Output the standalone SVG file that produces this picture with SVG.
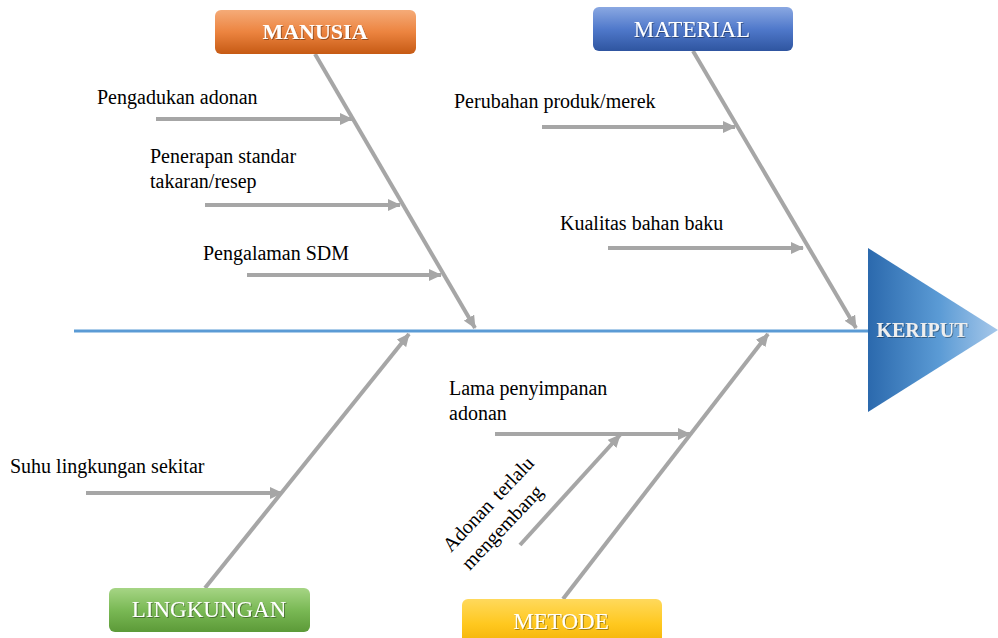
<svg xmlns="http://www.w3.org/2000/svg" width="998" height="638" viewBox="0 0 998 638">
  <style>
    text { font-family: 'Liberation Serif', serif; }
    .lbl { font-size: 20px; fill: #000; }
    .hdr { font-size: 23px; fill: #ffffff; text-anchor: middle; }
    .bold { font-weight: bold; }
    .bone { stroke: #a6a6a6; stroke-width: 4; fill: none; marker-end: url(#arr); }
    .spine { stroke: #5b9bd5; stroke-width: 3; }
  </style>
  <defs>
    <marker id="arr" markerUnits="userSpaceOnUse" markerWidth="14" markerHeight="12" refX="12" refY="6" orient="auto">
      <path d="M0,0 L13,6 L0,12 z" fill="#a6a6a6"/>
    </marker>
    <filter id="tsh" x="-10%" y="-30%" width="120%" height="160%">
      <feDropShadow dx="1" dy="1" stdDeviation="0.6" flood-color="#000" flood-opacity="0.35"/>
    </filter>
    <linearGradient id="gOrange" x1="0" y1="0" x2="0" y2="1">
      <stop offset="0" stop-color="#f5ab78"/>
      <stop offset="0.5" stop-color="#ec8440"/>
      <stop offset="1" stop-color="#c65a14"/>
    </linearGradient>
    <linearGradient id="gBlue" x1="0" y1="0" x2="0" y2="1">
      <stop offset="0" stop-color="#8aa8e2"/>
      <stop offset="0.5" stop-color="#5079cb"/>
      <stop offset="1" stop-color="#2f55a0"/>
    </linearGradient>
    <linearGradient id="gGreen" x1="0" y1="0" x2="0" y2="1">
      <stop offset="0" stop-color="#a6d585"/>
      <stop offset="0.5" stop-color="#7ab955"/>
      <stop offset="1" stop-color="#5c9a38"/>
    </linearGradient>
    <linearGradient id="gYellow" x1="0" y1="0" x2="0" y2="1">
      <stop offset="0" stop-color="#ffd95c"/>
      <stop offset="0.5" stop-color="#ffc81f"/>
      <stop offset="1" stop-color="#f0ad00"/>
    </linearGradient>
    <linearGradient id="gHead" x1="0" y1="0" x2="1" y2="0">
      <stop offset="0" stop-color="#2b69ad"/>
      <stop offset="0.55" stop-color="#5b9bd5"/>
      <stop offset="1" stop-color="#a7c8ea"/>
    </linearGradient>
  </defs>

  <g id="connectors">
    <line class="spine" x1="74" y1="331" x2="868" y2="331"/>
    <line class="bone" x1="315" y1="54" x2="475" y2="328"/>
    <line class="bone" x1="693" y1="51" x2="856" y2="328"/>
    <line class="bone" x1="205" y1="588" x2="409" y2="334"/>
    <line class="bone" x1="563" y1="599" x2="768" y2="334"/>
    <line class="bone" x1="156" y1="119" x2="352" y2="119"/>
    <line class="bone" x1="205" y1="205" x2="400" y2="205"/>
    <line class="bone" x1="247" y1="275" x2="441" y2="275"/>
    <line class="bone" x1="542" y1="127" x2="735" y2="127"/>
    <line class="bone" x1="608" y1="248" x2="803" y2="248"/>
    <line class="bone" x1="86" y1="493" x2="282" y2="493"/>
    <line class="bone" x1="495" y1="434" x2="690" y2="434"/>
    <line class="bone" x1="520" y1="545" x2="620" y2="435"/>
  </g>

  <g id="keriput">
    <polygon points="868,248 998,330 868,412" fill="url(#gHead)"/>
    <text class="hdr bold" x="922" y="337" style="font-size:20px; fill:#eeeeee" filter="url(#tsh)">KERIPUT</text>
  </g>

  <g id="manusia">
    <rect x="215" y="10" width="201" height="44" rx="6" fill="url(#gOrange)"/>
    <text class="hdr bold" x="315" y="39" style="font-size:22px" filter="url(#tsh)">MANUSIA</text>
  </g>
  <g id="material">
    <rect x="593" y="7" width="200" height="44" rx="6" fill="url(#gBlue)"/>
    <text class="hdr" x="692" y="37" filter="url(#tsh)">MATERIAL</text>
  </g>
  <g id="lingkungan">
    <rect x="109" y="588" width="201" height="44" rx="6" fill="url(#gGreen)"/>
    <text class="hdr" x="209" y="617" filter="url(#tsh)">LINGKUNGAN</text>
  </g>
  <g id="metode">
    <rect x="462" y="599" width="200" height="50" rx="6" fill="url(#gYellow)"/>
    <text class="hdr" x="561" y="629" filter="url(#tsh)">METODE</text>
  </g>

  <g id="pengadukan"><text class="lbl" x="97" y="104">Pengadukan adonan</text></g>
  <g id="penerapan">
    <text class="lbl" x="150" y="163">Penerapan standar</text>
    <text class="lbl" x="150" y="188">takaran/resep</text>
  </g>
  <g id="pengalaman"><text class="lbl" x="203" y="260">Pengalaman SDM</text></g>
  <g id="perubahan"><text class="lbl" x="454" y="108">Perubahan produk/merek</text></g>
  <g id="kualitas"><text class="lbl" x="560" y="230">Kualitas bahan baku</text></g>
  <g id="suhu"><text class="lbl" x="10" y="473">Suhu lingkungan sekitar</text></g>
  <g id="lama">
    <text class="lbl" x="449" y="395">Lama penyimpanan</text>
    <text class="lbl" x="449" y="420">adonan</text>
  </g>
  <g id="adonan-mengembang" transform="translate(451,553) rotate(-46.5)">
    <text class="lbl" x="0" y="0" word-spacing="3">Adonan terlalu</text>
    <text class="lbl" x="0" y="26">mengembang</text>
  </g>
</svg>
